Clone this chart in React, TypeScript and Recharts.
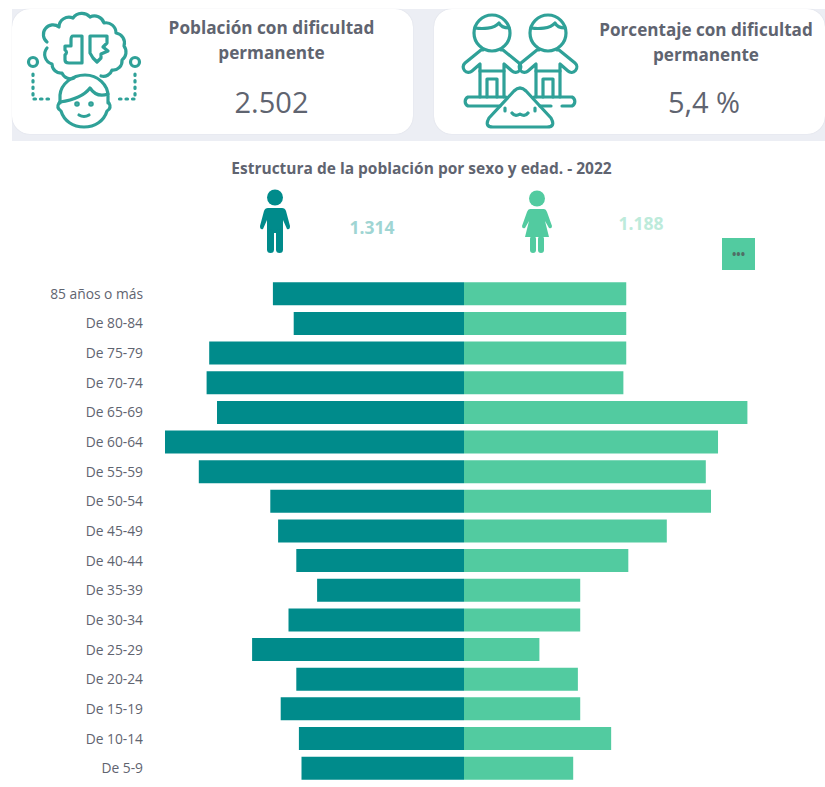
import { BarChart, Bar, XAxis, YAxis } from 'recharts';

const ageGroups = ['85 años o más', 'De 80-84', 'De 75-79', 'De 70-74', 'De 65-69', 'De 60-64', 'De 55-59', 'De 50-54', 'De 45-49', 'De 40-44', 'De 35-39', 'De 30-34', 'De 25-29', 'De 20-24', 'De 15-19', 'De 10-14', 'De 5-9'];
const hombres = [73.5, 65.5, 98, 99, 95, 115, 102, 74.5, 71.5, 64.5, 56.5, 67.5, 81.5, 64.5, 70.5, 63.5, 62.5];
const mujeres = [62.4, 62.4, 62.4, 61.3, 109, 97.7, 93, 95, 78, 63.2, 44.7, 44.7, 29, 43.8, 44.7, 56.6, 42];

const TEAL = '#008B8B';
const GREEN = '#52CBA0';
const ICON = '#2FA198';
const TEXT = '#5F6470';

const data = ageGroups.map((edad, i) => ({ edad, hombres: -hombres[i], mujeres: mujeres[i] }));

const FONT = '"Open Sans", "Noto Sans", sans-serif';

function Label({ x, y, w, size, bold, color, children }: any) {
  return (
    <div style={{ position: 'absolute', left: x, top: y, width: w, textAlign: 'center', fontSize: size, fontWeight: bold ? 700 : 400, color: color || TEXT, lineHeight: 1, whiteSpace: 'nowrap' }}>
      {children}
    </div>
  );
}

function BrainIcon() {
  return (
    <svg style={{ position: 'absolute', left: 0, top: 0 }} width={160} height={140} fill="none" stroke={ICON} strokeWidth={3.2} strokeLinecap="round" strokeLinejoin="round">
      {/* nube con borde ondulado */}
      <path d="M47 42 A9 9 0 0 1 59 27 A10 10 0 0 1 73 18 A11 11 0 0 1 90 17 A10 10 0 0 1 104 23 A10 10 0 0 1 116 33 A10 10 0 0 1 124 46 A10 10 0 0 1 122 60 A9 9 0 0 1 112 70 A9 9 0 0 1 101 76 M47 48 A10 10 0 0 0 52 64 A9 9 0 0 0 62 73 A9 9 0 0 0 74 78" />
      <path d="M82 36 H73 Q71 36 71 40 V46 H65 V50 Q68 52 65 55 V60 Q65 63 69 63 H82 Z" />
      <path d="M90 36 H107 V43 L103 47 L108 51 L101 54 V58 L97 62 L93 58 L90 53 Z" />
      <path d="M60 103 V95 C61 84 72 75 85 75 C98 75 108 85 108 96 V103" />
      <path d="M60 102 C74 100 84 96 90 88 C94 94 100 97 108 94" />
      <path d="M59 103 Q56 108 61 111 C64 121 73 127 84 127 C95 127 104 121 107 111 Q112 108 109 103" />
      <path d="M79 115 Q84 118 89 115" />
      <circle cx={77} cy={104} r={1.2} />
      <circle cx={91} cy={104} r={1.2} />
      <circle cx={33} cy={62} r={4.5} />
      <circle cx={135} cy={62} r={4.5} />
      <path d="M33 74 V99 H52 M135 74 V99 H116" strokeDasharray="1.5 5" />
    </svg>
  );
}

function KidsIcon() {
  const kid = (cx: number) => (
    <g key={cx}>
      <circle cx={cx} cy={33} r={18} />
      <path d={`M${cx - 17} 28 C${cx - 10} 29 ${cx + 2} 29 ${cx + 7} 23 C${cx + 9} 27 ${cx + 13} 28 ${cx + 17} 28`} />
      <path d={`M${cx - 9} 50 H${cx - 11} L${cx - 27} 63 A4.5 4.5 0 1 0 ${cx - 20} 71 L${cx - 12} 64 V97 M${cx + 9} 50 H${cx + 11} L${cx + 27} 63 A4.5 4.5 0 1 1 ${cx + 20} 71 L${cx + 12} 64 V97`} />
      <path d={`M${cx - 12} 71 H${cx + 12} M${cx - 5} 97 V79 H${cx + 5} V97`} />
    </g>
  );
  return (
    <svg style={{ position: 'absolute', left: 434, top: 0 }} width={160} height={140} fill="none" stroke={ICON} strokeWidth={3.2} strokeLinecap="round" strokeLinejoin="round">
      {kid(58)}
      {kid(114)}
      <path d="M66 106 H34 A5 5 0 0 1 34 97 H72 M106 106 H117 M128 106 H138 A5 5 0 0 0 138 97 H100" />
      <path d="M55 118 L80 91 Q86 85 92 91 L117 118 Q122 127 113 127 H59 Q50 127 55 118 Z" />
      <path d="M78 113 Q81 117 86 114 Q91 117 94 113 M71 108 V111 M101 108 V111" />
    </svg>
  );
}

function PersonIcon({ x, y, color, skirt }: any) {
  return (
    <svg style={{ position: 'absolute', left: x, top: y }} width={32} height={66} fill={color}>
      <circle cx={16} cy={8.5} r={8} />
      {skirt ? (
        <>
          <path d="M9 19 H23 Q25 19 26 22 L31 36 Q31 39 28 38 L24 31 L28 47 H4 L8 31 L4 38 Q1 39 1 36 L6 22 Q7 19 9 19 Z" />
          <rect x={9} y={46} width={6} height={17} rx={3} />
          <rect x={17} y={46} width={6} height={17} rx={3} />
        </>
      ) : (
        <>
          <path d="M9 19 H23 Q26 19 27 22 L31 37 Q31 41 28 40 L24 31 V44 H8 V31 L4 40 Q1 41 1 37 L5 22 Q6 19 9 19 Z" />
          <rect x={8} y={40} width={7} height={24} rx={3.5} />
          <rect x={17} y={40} width={7} height={24} rx={3.5} />
        </>
      )}
    </svg>
  );
}

const AgeTick = ({ x, y, payload }: any) => (
  <text x={x - 1} y={y} dy={5} textAnchor="end" fontFamily={FONT} fontSize={13.8} fill={TEXT}>
    {payload.value}
  </text>
);

export default function App() {
  return (
    <div style={{ position: 'absolute', left: 0, top: 0, width: 825, height: 787, background: '#fff', overflow: 'hidden', fontFamily: FONT }}>
      {/* franja gris detras de las tarjetas */}
      <div style={{ position: 'absolute', left: 12, top: 9, width: 813, height: 132, background: '#ECEEF4' }} />
      <div style={{ position: 'absolute', left: 12, top: 9, width: 401, height: 125, background: '#fff', borderRadius: 18, boxShadow: '0 0 1px #c9ccd8' }} />
      <div style={{ position: 'absolute', left: 434, top: 9, width: 391, height: 125, background: '#fff', borderRadius: 18, boxShadow: '0 0 1px #c9ccd8' }} />

      <BrainIcon />
      <KidsIcon />

      <Label x={151} y={19} w={241} size={17.2} bold>Población con dificultad</Label>
      <Label x={151} y={44} w={241} size={17.2} bold>permanente</Label>
      <Label x={151} y={87} w={241} size={29}>2.502</Label>

      <Label x={586} y={21} w={240} size={17.1} bold>Porcentaje con dificultad</Label>
      <Label x={586} y={46} w={240} size={17.1} bold>permanente</Label>
      <Label x={584} y={87} w={240} size={29}>5,4 %</Label>

      <Label x={181} y={161} w={481} size={15.5} bold>Estructura de la población por sexo y edad. - 2022</Label>

      <PersonIcon x={259} y={189} color={TEAL} />
      <PersonIcon x={521} y={190} color={GREEN} skirt />
      <Label x={322} y={219} w={100} size={17.5} bold color="#9FD5D3">1.314</Label>
      <Label x={591} y={215} w={100} size={17.5} bold color="#BDEBDB">1.188</Label>

      <div style={{ position: 'absolute', left: 722, top: 238, width: 33, height: 32, background: GREEN, color: '#4F6F66', fontSize: 11.5, fontWeight: 700, textAlign: 'center', lineHeight: '33px' }}>
        •••
      </div>

      <div style={{ position: 'absolute', left: 0, top: 279 }}>
        <BarChart
          width={825}
          height={504}
          data={data}
          layout="vertical"
          stackOffset="sign"
          barCategoryGap={3.3}
          margin={{ top: 0, right: 49, bottom: 0, left: 143 }}
        >
          <XAxis type="number" domain={[-120, 120]} hide />
          <YAxis type="category" dataKey="edad" axisLine={false} tickLine={false} tick={<AgeTick />} width={9} interval={0} />
          <Bar dataKey="hombres" stackId="a" fill={TEAL} isAnimationActive={false} />
          <Bar dataKey="mujeres" stackId="a" fill={GREEN} isAnimationActive={false} />
        </BarChart>
      </div>
    </div>
  );
}
